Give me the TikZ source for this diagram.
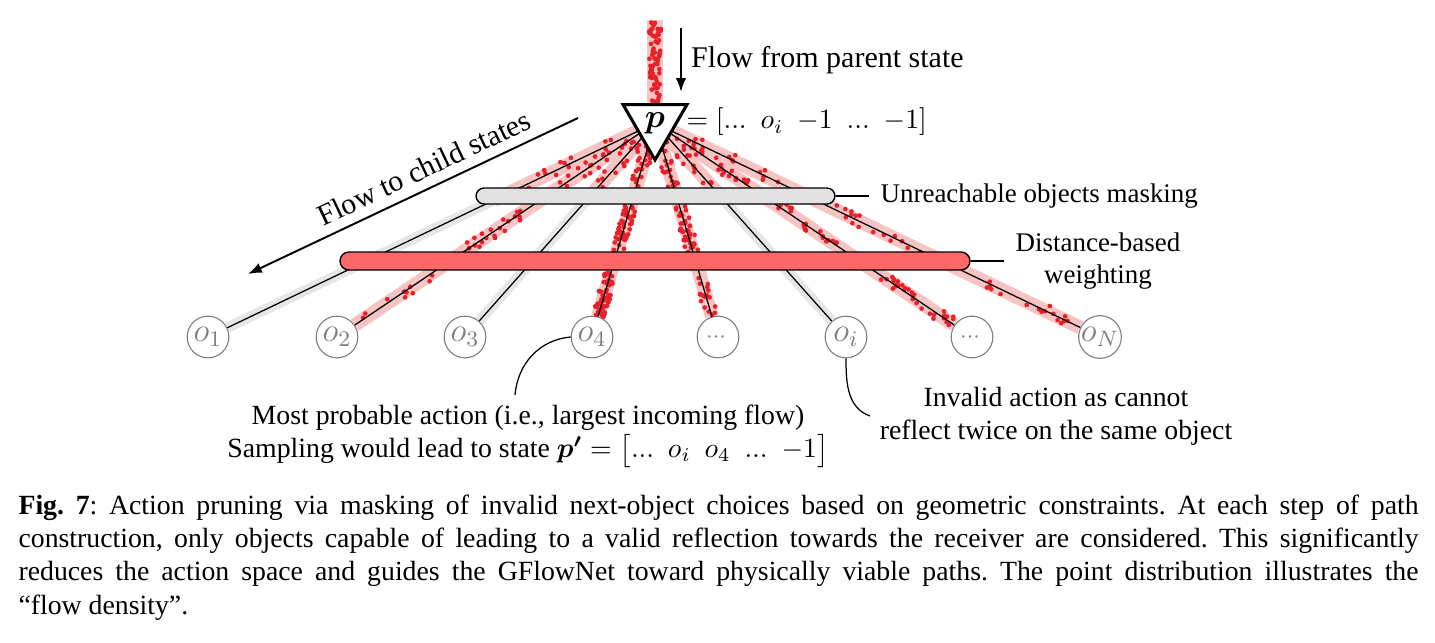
\documentclass[tikz,border=0pt]{standalone}
\usepackage{amsmath,amssymb}
\usepackage[no-math]{fontspec}
\setmainfont{Liberation Serif}
\usepackage{tikz}
\usetikzlibrary{positioning,calc,arrows.meta,shapes.geometric}
\definecolor{dotred}{HTML}{E8202A}
\definecolor{bandred}{HTML}{F7C4C4}
\definecolor{bandgray}{HTML}{E6E6E6}
\definecolor{barred}{HTML}{FF6868}
\definecolor{bargray}{HTML}{E2E2E2}
\definecolor{objgray}{HTML}{7F7F7F}

\begin{document}
\frenchspacing
\begin{tikzpicture}[x=0.36pt, y=0.36pt,
  redband/.style={bandred, line width=5pt},
  grayband/.style={bandgray, line width=3.8pt},
  flowline/.style={black, line width=0.45pt},
  flowdot/.style={fill=dotred},
  obj/.style={circle, draw=objgray, line width=0.4pt, text=objgray, minimum size=15pt, inner sep=0pt, fill=white, font=\large},
  bar/.style={draw=black, line width=0.5pt, inner sep=0pt},
  note/.style={font=\fontsize{10}{12}\selectfont, align=center},
  flowarrow/.style={line width=0.7pt, -{Latex[length=5pt]}}]
  \useasboundingbox (0,0) rectangle (1435,642);

  % source of the flow (centre of p) and top of incoming band
  \coordinate (src) at (655,519);
  \coordinate (ptop) at (655,622);

  % Child objects
  \foreach \nm/\xx/\lbl in {o1/208/o_1, o2/337/o_2, o3/465/o_3, o4/592/o_4, d5/718/\scriptstyle\cdots, oi/846/o_i, d7/972/\scriptstyle\cdots, oN/1100/o_N} {
    \node[obj] (\nm) at (\xx,305) {$\lbl$};
  }

  % Flow bands
  \draw[redband, line width=6pt] (ptop) -- (src);
  \foreach \nm in {o2,o4,d5,d7,oN} {
    \draw[redband] (src) -- (\nm);
  }
  \foreach \nm in {o1,o3,oi} {
    \draw[redband] (src) -- ($(src)!0.36!(\nm)$);
    \draw[grayband] ($(src)!0.34!(\nm)$) -- (\nm);
  }

  % Flow density (points)
  \pgfmathsetseed{4217}
  \foreach \n in {1,...,70} {
    \pgfmathsetmacro\yy{538+rnd*82}
    \pgfmathsetmacro\xx{655+rand*6}
    \fill[flowdot] (\xx,\yy) circle (0.85pt);
  }
  \foreach \nm/\ta/\tb/\cnt in {o1/0.07/0.30/14, o2/0.07/0.30/18, o3/0.07/0.30/14, o4/0.07/0.30/22,
      d5/0.07/0.30/22, oi/0.07/0.30/14, d7/0.07/0.30/18, oN/0.07/0.30/16,
      o2/0.39/0.60/22, o4/0.39/0.60/45, d5/0.39/0.60/40, d7/0.39/0.60/20, oN/0.39/0.60/16,
      o2/0.70/0.94/10, o4/0.70/0.90/55, d5/0.70/0.90/18, d7/0.70/0.94/30, oN/0.70/0.955/16} {
    \foreach \n in {1,...,\cnt} {
      \pgfmathsetmacro\t{\ta+rnd*(\tb-\ta)}
      \pgfmathsetlengthmacro\d{rand*2.3pt}
      \fill[flowdot] ($(src)!\t!(\nm)!\d!90:(\nm)$) circle (0.85pt);
    }
  }

  % Actions p -> o_k
  \foreach \nm in {o1,o2,o3,o4,d5,oi,d7,oN} {
    \draw[flowline] (src) -- (\nm);
  }

  % Masking and weighting bars
  \node[bar, fill=bargray, rounded corners=2.88pt, minimum width=129.2pt, minimum height=5.76pt] (mask) at (655.5,446) {};
  \node[bar, fill=barred, rounded corners=3.24pt, minimum width=226.8pt, minimum height=6.48pt] (wbar) at (655,381) {};
  \node[note, font=\fontsize{9.7}{12}\selectfont, right=12pt of mask, inner sep=4pt] (masklbl) {Unreachable objects masking};
  \node[note, font=\fontsize{9.7}{11.5}\selectfont, right=12pt of wbar, inner sep=4pt] (wlbl) {Distance-based\\weighting};
  \draw[flowline] (mask.east) -- (masklbl.west);
  \draw[flowline] (wbar.east) -- (wlbl.west);

  % Current state p
  \node[regular polygon, regular polygon sides=3, shape border rotate=180, draw, fill=white,
        line width=1.1pt, minimum size=26.6pt, inner sep=0pt, font=\large] (p) at (src) {$\boldsymbol{p}$};
  \node[note, anchor=west, inner sep=0pt] (pstate) at (686,520) {$= [...\ \ o_i\ \ {-1}\ \ ...\ \ {-1}]$};

  % Flow arrows
  \coordinate (pa1) at (681,614);
  \coordinate (pa2) at (681,550);
  \draw[flowarrow] (pa1) -- node[note, font=\fontsize{10.8}{13}\selectfont, right] (parentlbl) {Flow from parent state} (pa2);
  \coordinate (ca1) at (248,368);
  \coordinate (ca2) at (578,524);
  \draw[flowarrow, {Latex[length=5pt]}-] (ca1) -- node[note, font=\fontsize{10.7}{13}\selectfont, pos=0.56, above, sloped] (childlbl) {Flow to child states} (ca2);

  % Annotations
  \node[note] (most) at (528,206) {Most probable action (i.e., largest incoming flow)\\Sampling would lead to state $\boldsymbol{p'} = \big[...\ \ o_i\ \ o_4\ \ ...\ \ {-1}\big]$};
  \node[note] (invalid) at (1056,226) {Invalid action as cannot\\reflect twice on the same object};
  \draw[flowline] (o4.west) to[out=185, in=85] ($(most.north)+(-13,0)$);
  \draw[flowline] (oi.south) to[out=-90, in=160] (invalid.west);

  % Caption
  \node[anchor=north west, text width=504pt, align=justify, inner sep=0pt, font=\fontsize{10}{12}\selectfont] (caption) at (18,148)
    {\textbf{Fig. 7}: Action pruning via masking of invalid next-object choices based on geometric constraints. At each step of path\linebreak
     construction, only objects capable of leading to a valid reflection towards the receiver are considered. This significantly\linebreak
     reduces the action space and guides the GFlowNet toward physically viable paths. The point distribution illustrates the\linebreak
     ``flow density''.};
\end{tikzpicture}
\end{document}
